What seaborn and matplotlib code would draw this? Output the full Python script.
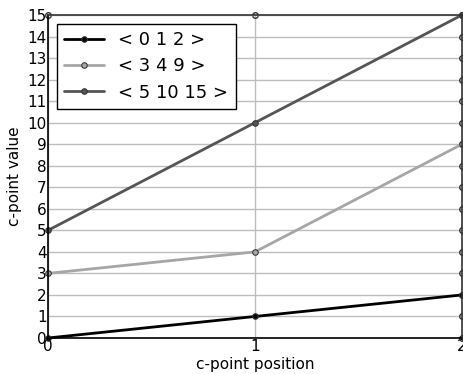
import matplotlib
matplotlib.use("Agg")
import matplotlib.pyplot as plt
import seaborn as sns
import pandas as pd

positions = [0, 1, 2]
series_labels = ["< 0 1 2 >", "< 3 4 9 >", "< 5 10 15 >"]
series_values = [[0, 1, 2], [3, 4, 9], [5, 10, 15]]
colors = ["#000000", "#a6a6a6", "#555555"]
yticks = list(range(0, 16))
xticks = [0, 1, 2]

rows = []
for lab, vals in zip(series_labels, series_values):
    for p, v in zip(positions, vals):
        rows.append({"pos": p, "val": v, "series": lab})
df = pd.DataFrame(rows)

sns.set_style("white")
plt.rcParams['font.family'] = ['DejaVu Sans']
plt.rcParams['text.color'] = 'black'
plt.rcParams['axes.labelcolor'] = 'black'
plt.rcParams['xtick.color'] = 'black'
plt.rcParams['ytick.color'] = 'black'
fig = plt.figure(figsize=(4.64, 3.74), dpi=100)
ax = fig.add_axes([48/464, 36/374, 414/464, 323/374])

sns.lineplot(data=df, x="pos", y="val", hue="series", palette=colors,
             marker="o", markersize=4, linewidth=2, ax=ax,
             markeredgecolor="#333333", clip_on=False)

ax.set_xlim(0, 2)
ax.set_ylim(0, 15)
ax.set_xticks(xticks)
ax.set_yticks(yticks)
ax.set_xticklabels([str(t) for t in xticks], fontsize=11)
ax.set_yticklabels([str(t) for t in yticks], fontsize=11)
ax.grid(True, color="#bdbdbd", linewidth=1)
ax.set_axisbelow(True)
ax.tick_params(length=0, pad=1, labelcolor="black")
for axis in (ax.xaxis, ax.yaxis):
    for tick in axis.get_major_ticks():
        for ln in (tick.tick1line, tick.tick2line):
            ln.set_marker("o")
            ln.set_markersize(4)
            ln.set_markerfacecolor("none")
            ln.set_markeredgecolor("#333333")
            ln.set_markeredgewidth(1)
ax.tick_params(right=True, top=True, labelright=False, labeltop=False)

for s in ax.spines.values():
    s.set_color("#333333")
    s.set_linewidth(1.2)
ax.spines["bottom"].set_color("black")
ax.spines["left"].set_color("black")

ax.set_xlabel("c-point position", fontsize=11, labelpad=2, color="black")
ax.set_ylabel("c-point value", fontsize=11, labelpad=4, color="black")

leg = ax.legend(loc="upper left", fontsize=13, frameon=True, fancybox=False,
                edgecolor="#000000", framealpha=1, borderaxespad=0.5,
                handlelength=2.2, labelspacing=0.45)
leg.get_frame().set_linewidth(1)
for t in leg.get_texts():
    t.set_color("black")

fig.savefig("out.png", dpi=100)
